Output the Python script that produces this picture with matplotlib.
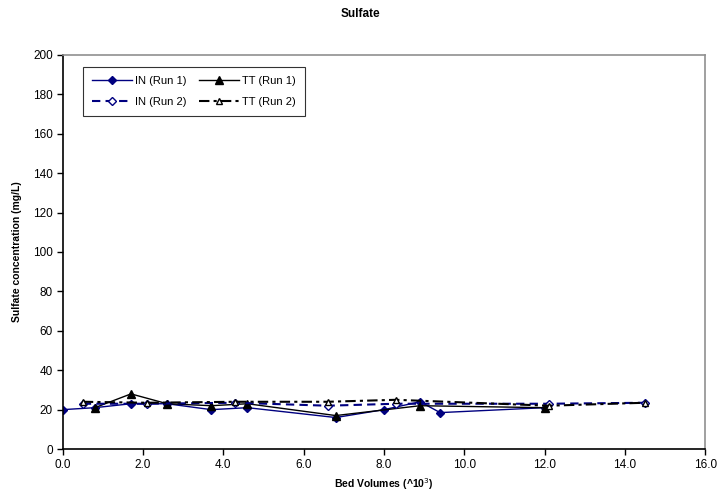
import matplotlib
matplotlib.use("Agg")
import matplotlib.pyplot as plt

plt.rcParams['font.family'] = ['Liberation Sans', 'DejaVu Sans']

# Bed volumes (x10^3) and sulfate (mg/L)
bv_in1 = [0.0, 0.8, 1.7, 2.6, 3.7, 4.6, 6.8, 8.0, 8.9, 9.4, 12.0]
in_run1 = [20, 21, 23, 23, 20, 21, 16, 20, 24, 18.5, 21]

bv_tt1 = [0.8, 1.7, 2.6, 3.7, 4.6, 6.8, 8.9, 12.0]
tt_run1 = [21, 28, 23, 22, 23, 17, 22, 21]

bv_in2 = [0.5, 2.1, 4.3, 6.6, 8.3, 12.1, 14.5]
in_run2 = [23, 23, 23.5, 22, 23, 23, 23.5]

bv_tt2 = [0.5, 2.1, 4.3, 6.6, 8.3, 12.1, 14.5]
tt_run2 = [24, 23.5, 24, 24, 25, 22, 23.5]

xticks = [0, 2, 4, 6, 8, 10, 12, 14, 16]
yticks = list(range(0, 201, 20))

fig = plt.figure(figsize=(7.21, 5.04), dpi=100)
ax = fig.add_axes([0.087, 0.109, 0.891, 0.782])

navy = '#000080'
h_in1, = ax.plot(bv_in1, in_run1, color=navy, lw=1.0, marker='D', ms=4.5,
                 mfc=navy, mec=navy, label='IN (Run 1)')
h_tt1, = ax.plot(bv_tt1, tt_run1, color='black', lw=1.0, marker='^', ms=5.5,
                 mfc='black', mec='black', label='TT (Run 1)')
h_in2, = ax.plot(bv_in2, in_run2, color=navy, lw=1.5, ls=(0, (4, 2.5)), marker='D', ms=4,
                 mfc='white', mec=navy, label='IN (Run 2)')
h_tt2, = ax.plot(bv_tt2, tt_run2, color='black', lw=1.5, ls=(0, (5, 2, 1.5, 2)), marker='^', ms=5,
                 mfc='white', mec='black', label='TT (Run 2)')

ax.set_xlim(0, 16)
ax.set_ylim(0, 200)
ax.set_xticks(xticks)
ax.set_xticklabels([f"{v:.1f}" for v in xticks])
ax.set_yticks(yticks)
ax.tick_params(labelsize=8.5, direction='out', length=4, width=1, pad=3)

ax.spines['left'].set_color('black')
ax.spines['bottom'].set_color('black')
ax.spines['top'].set_color('#909090')
ax.spines['right'].set_color('#909090')
for s in ax.spines.values():
    s.set_linewidth(1.2)

ax.set_xlabel('Bed Volumes (^10$^3$)', fontsize=7.5, fontweight='bold', labelpad=4)
ax.set_ylabel('Sulfate concentration (mg/L)', fontsize=7.5, fontweight='bold', labelpad=8)
fig.suptitle('Sulfate', fontsize=8.5, fontweight='bold', y=0.985)

# row-major order: matplotlib fills legend columns first
handles = [h_in1, h_in2, h_tt1, h_tt2]
leg = ax.legend(handles=handles, loc='upper left', bbox_to_anchor=(0.031, 0.97), ncol=2,
                fontsize=8, frameon=True, fancybox=False, edgecolor='black', handlelength=3.6,
                columnspacing=1.1, borderpad=0.8, labelspacing=1.0, handletextpad=0.3,
                borderaxespad=0)
leg.get_frame().set_linewidth(0.8)

fig.savefig('out.png', dpi=100)
